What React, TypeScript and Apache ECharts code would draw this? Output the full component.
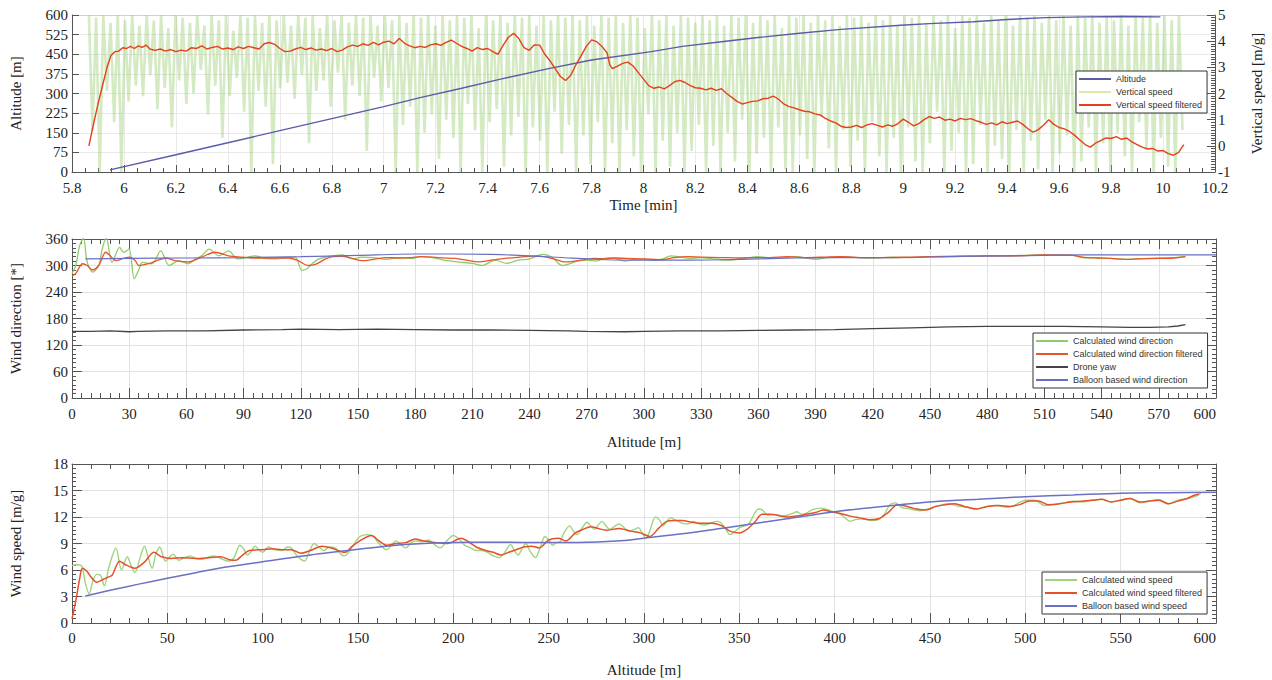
import React, { useEffect, useRef } from 'react';
import * as echarts from 'echarts';

// ---------- Panel 1: time series ----------
const timeMin = 5.8;
const timeMax = 10.2;
const timeStep = 0.2;
const altTicks = { min: 0, max: 600, interval: 75 };
const vsTicks = { min: -1, max: 5, interval: 1 };

// raw vertical speed samples (m/g), evenly sampled between vsStart and vsEnd
const vsStart = 5.865;
const vsEnd = 10.075;
const vsRaw: number[] = [
  5, 0.6, 4.9, -1, 5, 2.1, 4.7, 0.9, 5, -1, 4.8, 1.7,
  5, 2.3, 4.6, 1.9, 5, 2.7, 4.8, 1.4, 5, 2.2, 4.5, 0.7, 5, 2.5, 4.9, 1.6, 4.7, 2.0, 5, 2.9,
  4.6, 1.2, 5, 2.3, 4.8, 0.3, 5, 1.9, 4.4, 2.6, 5, 1.3, 4.9, -1, 5, 2.1, 4.7, 1.5, 5, -0.7, 4.8, 2.2,
  5, 2.4, 4.6, 1.8, 5, 2.7, 4.9, 0.1, 5, 2.1, 4.5, 2.5, 5, 1.5, 4.8, 2.8, 5, 1.0, 4.7, 2.3,
  5, 1.9, 4.9, -0.2, 5, 2.6, 4.6, 1.7, 5, 2.2, 4.8, -1,
  5, 0.8, 4.7, 1.5, 5, -1, 4.9, 0.5, 5, 1.2, 4.6, -0.5, 5, 1.0, 4.8, 0.3, 5, -1, 4.9, 1.6,
  5, 0.6, 4.5, -1, 5, 0.9, 4.8, 1.4, 5, -0.8, 4.7, 0.4, 5, 1.1, 4.9, -1, 5, 0.7, 4.6, 0.2,
  5, -1, 4.8, 1.3, 5, -0.3, 4.9, 0.8,
  5, -1, 4.8, 0.4, 5, -0.7, 4.6, 0.9, 5, -1, 4.9, 0.1, 5, -1, 4.7, 0.6, 5, -0.4, 4.9, -1,
  4.5, 1.2, 5, -1, 4.8, 0.2, 5, -0.8, 4.6, 0.5, 5, -1, 4.9, -0.2, 4.7, 0.8, 5, -1, 4.8, 0.0,
  5, -1, 4.6, 0.5, 5, -0.6, 4.9, 1.0, 5, -1, 4.7, -0.3, 5, 0.3, 4.8, -1, 5, 0.7, 4.5, -0.9,
  5, -1, 4.9, 0.4, 5, -0.5, 4.7, -1, 5, 1.1, 4.8, -0.1, 5, -1, 4.6, 0.6, 5, -0.8, 4.9, 0.2,
  5, -1, 4.7, 0.9, 5, -0.4, 4.8, -1, 5, 0.3, 4.6, -1, 5, 0.7, 4.9, -0.6, 5, -1, 4.7, 0.1,
  5, 1.3, 4.8, -1, 5, -0.2, 4.5, 0.5, 5, -1, 4.9, -0.7, 5, 0.8, 4.7, -1, 5, 0.0, 4.8, -0.5,
  5, -1, 4.6, 0.6, 5, -1, 4.9, 0.2, 5, -0.9, 4.7, 1.0, 5, -1, 4.8, -0.3, 5, 0.4, 4.6, -1,
  5, -0.6, 4.9, 0.7, 5, -1, 4.7, 0.1, 5, -1, 4.8, 0.5, 5, -0.4, 4.6, -1, 5, 0.9, 4.9, -0.1,
  5, -1, 4.7, 0.3, 5, -0.8, 4.8, -1, 5, 0.6,
];

const altitudeSeries: [number, number][] = [
  [5.946, 8], [6.2, 66], [6.4, 112], [6.6, 158], [6.8, 204], [7.0, 250], [7.14, 284], [7.3, 320],
  [7.45, 355], [7.63, 394], [7.8, 428], [8.03, 460], [8.15, 480], [8.3, 498], [8.45, 515], [8.6, 530],
  [8.76, 545], [8.99, 561], [9.1, 567], [9.27, 574], [9.4, 583], [9.55, 590], [9.7, 593], [9.85, 594], [9.99, 593],
];

const vsFiltered: [number, number][] = [
  [5.865, 0.0], [5.88, 0.7], [5.9, 1.6], [5.92, 2.4], [5.935, 3.0], [5.95, 3.45], [5.965, 3.6], [5.98, 3.62],
  [5.995, 3.75], [6.01, 3.72], [6.025, 3.8], [6.04, 3.72], [6.055, 3.82], [6.07, 3.76], [6.085, 3.85], [6.1, 3.7],
  [6.12, 3.65], [6.14, 3.7], [6.16, 3.62], [6.18, 3.68], [6.2, 3.6], [6.22, 3.66], [6.24, 3.62], [6.26, 3.75],
  [6.28, 3.72], [6.3, 3.82], [6.32, 3.7], [6.34, 3.76], [6.36, 3.8], [6.38, 3.7], [6.4, 3.74], [6.42, 3.68],
  [6.44, 3.78], [6.46, 3.72], [6.48, 3.8], [6.5, 3.75], [6.52, 3.7], [6.54, 3.9], [6.56, 3.95], [6.58, 3.88],
  [6.6, 3.72], [6.62, 3.6], [6.64, 3.62], [6.66, 3.7], [6.68, 3.76], [6.7, 3.68], [6.72, 3.74], [6.74, 3.66],
  [6.76, 3.7], [6.78, 3.64], [6.8, 3.72], [6.82, 3.6], [6.84, 3.66], [6.86, 3.78], [6.88, 3.85], [6.9, 3.8],
  [6.92, 3.9], [6.94, 3.84], [6.96, 3.95], [6.98, 3.86], [7.0, 3.96], [7.02, 4.0], [7.04, 3.9], [7.06, 4.1],
  [7.08, 3.92], [7.1, 3.82], [7.12, 3.75], [7.14, 3.8], [7.16, 3.76], [7.18, 3.86], [7.2, 3.9], [7.22, 3.84],
  [7.24, 3.95], [7.26, 4.04], [7.28, 3.92], [7.3, 3.8], [7.32, 3.72], [7.34, 3.62], [7.36, 3.75], [7.38, 3.68],
  [7.4, 3.72], [7.42, 3.6], [7.44, 3.5], [7.46, 3.85], [7.48, 4.15], [7.5, 4.3], [7.52, 4.1], [7.54, 3.75],
  [7.56, 3.65], [7.58, 3.86], [7.6, 3.85], [7.62, 3.5], [7.64, 3.25], [7.66, 2.95], [7.68, 2.65], [7.7, 2.5],
  [7.72, 2.7], [7.74, 3.1], [7.76, 3.45], [7.78, 3.8], [7.8, 4.05], [7.82, 3.98], [7.84, 3.8], [7.86, 3.55],
  [7.87, 3.1], [7.88, 2.95], [7.9, 3.05], [7.92, 3.15], [7.94, 3.2], [7.96, 3.05], [7.98, 2.8], [8.0, 2.55],
  [8.02, 2.3], [8.04, 2.2], [8.06, 2.25], [8.08, 2.18], [8.1, 2.3], [8.12, 2.45], [8.14, 2.5], [8.16, 2.42],
  [8.18, 2.3], [8.2, 2.22], [8.22, 2.2], [8.24, 2.14], [8.26, 2.2], [8.28, 2.12], [8.3, 2.18], [8.32, 2.0],
  [8.34, 1.85], [8.36, 1.7], [8.38, 1.6], [8.4, 1.65], [8.42, 1.7], [8.44, 1.72], [8.46, 1.8], [8.48, 1.82],
  [8.5, 1.9], [8.52, 1.78], [8.54, 1.6], [8.56, 1.5], [8.58, 1.45], [8.6, 1.38], [8.62, 1.32], [8.64, 1.3],
  [8.66, 1.22], [8.68, 1.18], [8.7, 1.05], [8.72, 0.95], [8.74, 0.88], [8.76, 0.75], [8.78, 0.7], [8.8, 0.72],
  [8.82, 0.78], [8.84, 0.7], [8.86, 0.8], [8.88, 0.85], [8.9, 0.78], [8.92, 0.72], [8.94, 0.8], [8.96, 0.75],
  [8.98, 0.85], [9.0, 1.02], [9.02, 0.9], [9.04, 0.76], [9.06, 0.85], [9.08, 1.0], [9.1, 1.12], [9.12, 1.05],
  [9.14, 1.1], [9.16, 0.98], [9.18, 1.02], [9.2, 0.95], [9.22, 1.05], [9.24, 1.0], [9.26, 1.04], [9.28, 0.96],
  [9.3, 0.9], [9.32, 0.82], [9.34, 0.88], [9.36, 0.8], [9.38, 0.92], [9.4, 0.85], [9.42, 0.9], [9.44, 0.95],
  [9.46, 0.82], [9.48, 0.65], [9.5, 0.52], [9.52, 0.62], [9.54, 0.8], [9.56, 1.0], [9.58, 0.82], [9.6, 0.7],
  [9.62, 0.65], [9.64, 0.55], [9.66, 0.4], [9.68, 0.22], [9.7, 0.05], [9.72, -0.05], [9.74, 0.1], [9.76, 0.2],
  [9.78, 0.3], [9.8, 0.28], [9.82, 0.35], [9.84, 0.25], [9.86, 0.3], [9.88, 0.15], [9.9, 0.05], [9.92, -0.05],
  [9.94, -0.12], [9.96, -0.1], [9.98, -0.2], [10.0, -0.18], [10.02, -0.3], [10.04, -0.36], [10.06, -0.25],
  [10.07, -0.1], [10.08, 0.05],
];

// ---------- Panel 2: wind direction vs altitude ----------
const dirCalc: [number, number][] = [
  [0, 282], [2, 300], [4, 345], [6, 362], [8, 307], [11, 285], [14, 300], [16, 340], [18, 362], [21, 307],
  [25, 341], [27, 330], [30, 337], [32.6, 270], [35, 290], [37, 307], [42, 304], [46.5, 333], [51, 300],
  [56, 311], [61, 304], [65, 315], [68, 322], [72, 337], [77, 322], [82, 333], [87, 315], [91, 318], [96, 322],
  [101, 316], [107, 315], [112, 318], [117, 319], [120.6, 289], [123, 292], [126, 304], [129, 314], [133, 319],
  [137, 322], [142, 324], [147, 315], [152, 319], [158, 318], [165, 314], [172, 318], [178, 316], [183, 320],
  [189, 318], [195, 312], [202, 308], [210, 305], [215, 300], [222, 312], [228, 305], [234, 312], [240, 315],
  [247, 325], [252, 318], [257, 300], [261, 304], [265, 310], [270, 312], [275, 310], [279, 316], [283, 318],
  [287, 313], [290, 310], [295, 314], [300, 315], [305, 312], [310, 315], [314, 322], [318, 320], [324, 316],
  [330, 318], [336, 315], [345, 312], [352, 316], [360, 320], [366, 317], [370, 316], [376, 319], [380, 320],
  [386, 316], [390, 314], [396, 318], [403, 320], [412, 318], [420, 317], [430, 319], [440, 318], [450, 320],
  [460, 320], [470, 321], [480, 322], [490, 322], [500, 323], [510, 324], [520, 324], [525, 323], [530, 318],
  [538, 317], [545, 316], [552, 314], [558, 315], [565, 316], [572, 317], [578, 318], [584, 320],
];
const dirFiltered: [number, number][] = [
  [0, 276], [2, 282], [5.5, 304], [8, 300], [10.7, 290], [14, 300], [17.7, 330], [20, 322], [23, 311], [27, 316],
  [30, 319], [33, 312], [35, 300], [38, 302], [40.3, 304], [45, 312], [49, 317], [54, 311], [61, 308], [68, 319],
  [75, 330], [82, 322], [89, 319], [95, 317], [100, 317], [107, 317], [113.6, 317], [118, 312], [124, 300],
  [128, 303], [133, 315], [137, 320], [141.7, 321], [147, 316], [152, 311], [158, 314], [165, 318], [172, 317],
  [178, 318], [183, 320], [192, 318], [201, 316], [207, 312], [213, 308], [220, 312], [227, 316], [235, 319],
  [244, 322], [250, 318], [255, 312], [258, 308], [262, 309], [267, 312], [274, 316], [280, 315], [285, 317],
  [291, 316], [300, 315], [309, 313], [316, 318], [323, 320], [330, 319], [340, 318], [350, 317], [358, 318],
  [366, 318], [375, 320], [385, 318], [395, 319], [403, 320], [415, 318], [425, 318], [440, 319], [450, 320],
  [465, 321], [480, 322], [495, 322], [510, 324], [525, 323], [530, 319], [538, 317], [545, 316], [552, 314],
  [560, 315], [570, 316], [578, 317], [584, 320],
];
const droneYaw: [number, number][] = [
  [0, 151], [10, 151], [20, 152], [30, 150], [35, 151], [50, 152], [70, 152], [90, 154], [110, 155], [120, 156],
  [140, 155], [160, 156], [180, 155], [200, 154], [220, 154], [240, 153], [260, 152], [270, 151], [290, 150],
  [300, 151], [320, 152], [340, 152], [360, 153], [380, 154], [400, 155], [420, 157], [440, 159], [460, 161],
  [480, 162], [500, 162], [520, 162], [540, 161], [555, 160], [565, 160], [575, 161], [580, 163], [584, 166],
];
const balloonDir: [number, number][] = [
  [7, 315], [30, 316], [60, 317], [90, 318], [120, 320], [150, 323], [180, 326], [200, 326], [220, 325],
  [240, 322], [260, 317], [280, 313], [300, 312], [320, 312], [340, 313], [360, 315], [380, 317], [400, 318],
  [430, 318], [460, 320], [490, 322], [510, 323], [530, 324], [560, 324], [600, 324],
];

// ---------- Panel 3: wind speed vs altitude ----------
const speedCalc: [number, number][] = [
  [0, 6.5], [2, 6.6], [5, 6.5], [7, 4.5], [9, 3.3], [11, 4.8], [13, 5.5], [15, 5.4], [17, 4.2], [19, 6.0],
  [21, 7.5], [23, 8.5], [26, 6.0], [29, 7.5], [31, 6.5], [33, 5.7], [36, 7.6], [38, 8.7], [40, 7.4], [42, 6.2],
  [44, 7.8], [46, 8.6], [49, 7.0], [51, 7.4], [53, 7.8], [56, 7.1], [58, 7.3], [62, 7.6], [65, 7.3], [68, 7.2],
  [72, 7.5], [75, 7.6], [78, 7.3], [82, 7.0], [85, 7.4], [88, 8.8], [90, 8.4], [92, 7.7], [94, 8.1], [96, 8.7],
  [98, 8.3], [100, 8.0], [103, 8.6], [106, 8.3], [110, 8.2], [113, 8.6], [115, 8.5], [118, 7.6], [122, 7.0],
  [124, 7.8], [127, 9.0], [130, 8.5], [132, 8.2], [135, 8.6], [138, 8.5], [141, 7.8], [143, 7.6], [147, 8.6],
  [150, 9.6], [152, 9.9], [155, 10.0], [158, 9.8], [161, 9.0], [165, 8.3], [168, 8.9], [170, 9.3], [173, 8.8],
  [175, 8.5], [178, 9.1], [180, 9.3], [183, 9.2], [187, 9.4], [190, 8.9], [193, 8.5], [197, 9.4], [200, 9.9],
  [203, 9.5], [206, 8.8], [209, 8.5], [212, 8.2], [215, 8.2], [218, 8.0], [221, 7.6], [224, 7.4], [227, 8.0],
  [230, 8.9], [232, 8.2], [234, 7.7], [236, 8.4], [238, 9.0], [240, 8.2], [243, 7.4], [246, 8.8], [248, 9.8],
  [250, 9.4], [252, 8.8], [254, 9.1], [256, 9.2], [258, 10.2], [261, 11.0], [263, 10.4], [265, 10.0], [268, 10.9],
  [270, 11.4], [272, 11.0], [274, 10.6], [276, 11.1], [278, 11.5], [280, 11.0], [282, 10.6], [285, 11.0],
  [287, 11.2], [290, 10.7], [292, 10.4], [295, 10.6], [297, 10.8], [299, 10.2], [301, 9.6], [303, 10.4],
  [306, 12.0], [308, 11.7], [310, 11.0], [312, 11.5], [314, 11.9], [317, 11.6], [320, 11.3], [323, 11.2],
  [326, 11.5], [329, 11.2], [332, 11.1], [335, 11.3], [338, 11.5], [340, 11.4], [343, 10.6], [345, 10.0],
  [348, 10.4], [350, 10.8], [353, 11.0], [355, 11.2], [357, 12.0], [360, 12.9], [362, 12.8], [365, 12.2],
  [368, 12.3], [372, 12.1], [375, 12.2], [378, 12.4], [380, 12.6], [383, 12.3], [385, 12.4], [388, 12.8],
  [392, 13.0], [395, 12.9], [398, 12.7], [402, 12.4], [405, 12.0], [408, 11.5], [411, 11.7], [414, 11.8],
  [417, 11.7], [420, 11.6], [423, 11.7], [426, 12.3], [429, 13.4], [432, 13.6], [435, 13.1], [440, 12.9],
  [445, 12.7], [450, 13.0], [455, 13.3], [460, 13.5], [465, 13.2], [470, 13.1], [475, 12.9], [480, 13.2],
  [485, 13.3], [490, 13.1], [495, 13.4], [500, 13.9], [505, 13.9], [510, 13.3], [515, 13.4], [520, 13.6],
  [525, 13.8], [530, 13.7], [535, 13.9], [540, 14.0], [545, 13.7], [550, 13.9], [555, 14.1], [560, 13.6],
  [565, 13.8], [570, 14.0], [575, 13.5], [580, 13.9], [585, 14.1], [590, 14.4], [592, 14.7],
];
const speedFiltered: [number, number][] = [
  [0, 0.5], [2, 2.5], [4, 5.0], [5.5, 6.2], [8, 5.8], [10, 5.2], [13, 4.6], [16, 4.9], [19, 5.2], [21, 5.4],
  [25, 7.0], [28, 6.6], [33, 6.2], [38, 6.9], [43, 8.0], [47, 7.5], [52, 7.3], [58, 7.4], [65, 7.3], [72, 7.4],
  [78, 7.5], [82, 7.2], [86, 7.1], [89, 7.6], [93, 8.2], [100, 8.3], [105, 8.4], [110, 8.3], [115, 8.3],
  [120, 7.9], [125, 8.2], [131, 8.7], [136, 8.5], [143, 8.0], [147, 8.7], [151, 9.3], [157, 9.9], [161, 9.3],
  [165, 8.8], [170, 9.0], [175, 9.1], [180, 9.5], [184, 9.3], [190, 9.1], [197, 9.0], [204, 9.6], [208, 9.2],
  [212, 8.6], [217, 8.2], [221, 8.0], [225, 7.7], [229, 8.0], [233, 8.3], [237, 8.6], [241, 8.7], [245, 8.5],
  [250, 9.4], [255, 9.6], [259, 9.3], [264, 10.2], [268, 10.6], [272, 10.9], [276, 10.7], [280, 10.5],
  [287, 10.7], [293, 10.4], [298, 10.2], [303, 9.8], [308, 10.8], [312, 11.5], [316, 11.6], [320, 11.6],
  [325, 11.4], [330, 11.3], [336, 11.3], [341, 11.0], [345, 10.4], [350, 10.2], [354, 10.6], [358, 11.4],
  [362, 12.3], [366, 12.3], [370, 12.2], [375, 12.0], [380, 12.1], [385, 12.3], [390, 12.5], [394, 12.8],
  [398, 12.6], [403, 12.4], [408, 12.1], [413, 11.9], [418, 11.7], [423, 11.8], [428, 12.5], [433, 13.4],
  [438, 13.2], [443, 12.9], [448, 12.8], [453, 13.2], [458, 13.4], [463, 13.5], [468, 13.2], [474, 12.9],
  [480, 13.2], [486, 13.3], [492, 13.2], [497, 13.4], [502, 13.8], [507, 13.8], [512, 13.4], [518, 13.5],
  [524, 13.7], [530, 13.8], [535, 13.9], [540, 14.0], [545, 13.7], [550, 13.9], [555, 14.1], [560, 13.7],
  [565, 13.8], [570, 13.9], [575, 13.5], [580, 13.8], [585, 14.1], [588, 14.4], [591, 14.6],
];
const balloonSpeed: [number, number][] = [
  [7, 3.05], [20, 3.7], [35, 4.4], [50, 5.06], [65, 5.7], [80, 6.3], [100, 6.94], [125, 7.7], [150, 8.34],
  [170, 8.8], [190, 9.05], [210, 9.15], [230, 9.15], [250, 9.1], [270, 9.15], [290, 9.35], [300, 9.6],
  [320, 10.1], [340, 10.7], [350, 11.0], [375, 11.8], [400, 12.6], [425, 13.2], [450, 13.7], [475, 14.0],
  [500, 14.3], [525, 14.5], [550, 14.7], [575, 14.75], [600, 14.8],
];

const SERIF = 'Liberation Serif';
const SANS = 'Liberation Sans';
const AX = '#555';

function tickStyle(len: number, minorLen: number, minorSplit: number, showMinor = true) {
  return {
    axisTick: { show: true, inside: true, length: len, lineStyle: { color: AX, width: 1 } },
    minorTick: { show: showMinor, splitNumber: minorSplit, length: minorLen, lineStyle: { color: AX, width: 1 } },
  };
}

function legendBox(left: number, top: number, data: string[]) {
  return {
    orient: 'vertical',
    left,
    top,
    icon: 'rect',
    itemWidth: 32,
    itemHeight: 2,
    itemGap: 3,
    padding: [3, 5, 3, 3],
    borderColor: '#333',
    borderWidth: 1,
    borderRadius: 0,
    backgroundColor: '#fff',
    selectedMode: false,
    textStyle: { fontFamily: SANS, fontSize: 9, color: '#333', lineHeight: 10 },
    data,
  };
}

export default function App() {
  const ref = useRef<HTMLDivElement>(null);
  useEffect(() => {
    if (!ref.current) return;
    const chart = echarts.init(ref.current, undefined, { renderer: 'svg' });
    const n = vsRaw.length;
    const vsData = vsRaw.map((v, i) => [vsStart + (i * (vsEnd - vsStart)) / (n - 1), v]);
    const labelStyle = { fontFamily: SERIF, fontSize: 15, color: '#222' };
    const nameStyle = { fontFamily: SERIF, fontSize: 15, color: '#222' };
    const grid2Split = { show: true, lineStyle: { color: '#e2e2e2', width: 1 } };

    const option: any = {
      animation: false,
      backgroundColor: '#fff',
      grid: [
        { left: 70, top: 15, width: 1146, height: 157 },
        { left: 70, top: 239, width: 1146, height: 159 },
        { left: 70, top: 464, width: 1146, height: 159 },
      ],
      xAxis: [
        {
          type: 'value', gridIndex: 0, position: 'bottom', min: timeMin, max: timeMax, interval: timeStep,
          name: 'Time [min]', nameLocation: 'middle', nameGap: 25, nameTextStyle: nameStyle,
          axisLine: { show: true, onZero: false, lineStyle: { color: AX } },
          ...tickStyle(7, 4, 4),
          axisLabel: { ...labelStyle, margin: 8, formatter: (v: number) => String(+v.toFixed(1)) },
          splitLine: { show: true, lineStyle: { color: '#e9e9e9' } },
        },
        {
          type: 'value', gridIndex: 0, position: 'top', min: timeMin, max: timeMax, interval: timeStep,
          axisLine: { show: true, onZero: false, lineStyle: { color: '#d0d0d0' } },
          axisTick: { show: false }, axisLabel: { show: false }, splitLine: { show: false },
        },
        {
          type: 'value', gridIndex: 1, position: 'bottom', min: 0, max: 600, interval: 30,
          name: 'Altitude [m]', nameLocation: 'middle', nameGap: 36, nameTextStyle: nameStyle,
          axisLine: { show: true, onZero: false, lineStyle: { color: AX } },
          ...tickStyle(10, 5, 6),
          axisLabel: { ...labelStyle, margin: 8, alignMaxLabel: 'right' },
          splitLine: grid2Split,
        },
        {
          type: 'value', gridIndex: 1, position: 'top', min: 0, max: 600, interval: 30,
          axisLine: { show: true, onZero: false, lineStyle: { color: AX } },
          ...tickStyle(10, 5, 6), axisLabel: { show: false }, splitLine: { show: false },
        },
        {
          type: 'value', gridIndex: 2, position: 'bottom', min: 0, max: 600, interval: 50,
          name: 'Altitude [m]', nameLocation: 'middle', nameGap: 39, nameTextStyle: nameStyle,
          axisLine: { show: true, onZero: false, lineStyle: { color: AX } },
          ...tickStyle(10, 5, 5),
          axisLabel: { ...labelStyle, margin: 7, alignMaxLabel: 'right' },
          splitLine: grid2Split,
        },
        {
          type: 'value', gridIndex: 2, position: 'top', min: 0, max: 600, interval: 50,
          axisLine: { show: true, onZero: false, lineStyle: { color: AX } },
          ...tickStyle(10, 5, 5), axisLabel: { show: false }, splitLine: { show: false },
        },
      ],
      yAxis: [
        {
          type: 'value', gridIndex: 0, position: 'left', min: altTicks.min, max: altTicks.max, interval: altTicks.interval,
          name: 'Altitude [m]', nameLocation: 'middle', nameGap: 49, nameTextStyle: nameStyle,
          axisLine: { show: true, onZero: false, lineStyle: { color: AX } },
          ...tickStyle(7, 4, 3, false),
          axisLabel: { ...labelStyle, margin: 4 },
          splitLine: { show: true, lineStyle: { color: '#e9e9e9' } },
        },
        {
          type: 'value', gridIndex: 0, position: 'right', min: vsTicks.min, max: vsTicks.max, interval: vsTicks.interval,
          name: 'Vertical speed [m/g]', nameLocation: 'middle', nameGap: 34, nameTextStyle: nameStyle,
          axisLine: { show: true, onZero: false, lineStyle: { color: AX } },
          ...tickStyle(8, 4, 10),
          axisLabel: { ...labelStyle, margin: 3 },
          splitLine: { show: false },
        },
        {
          type: 'value', gridIndex: 1, position: 'left', min: 0, max: 360, interval: 60,
          name: 'Wind direction [*]', nameLocation: 'middle', nameGap: 49, nameTextStyle: nameStyle,
          axisLine: { show: true, onZero: false, lineStyle: { color: AX } },
          ...tickStyle(10, 4, 6),
          axisLabel: { ...labelStyle, margin: 4 },
          splitLine: grid2Split,
        },
        {
          type: 'value', gridIndex: 1, position: 'right', min: 0, max: 360, interval: 60,
          axisLine: { show: true, onZero: false, lineStyle: { color: AX } },
          ...tickStyle(10, 4, 6), axisLabel: { show: false }, splitLine: { show: false },
        },
        {
          type: 'value', gridIndex: 2, position: 'left', min: 0, max: 18, interval: 3,
          name: 'Wind speed [m/g]', nameLocation: 'middle', nameGap: 49, nameTextStyle: nameStyle,
          axisLine: { show: true, onZero: false, lineStyle: { color: AX } },
          ...tickStyle(10, 4, 6),
          axisLabel: { ...labelStyle, margin: 4 },
          splitLine: grid2Split,
        },
        {
          type: 'value', gridIndex: 2, position: 'right', min: 0, max: 18, interval: 3,
          axisLine: { show: true, onZero: false, lineStyle: { color: AX } },
          ...tickStyle(10, 4, 6), axisLabel: { show: false }, splitLine: { show: false },
        },
      ],
      legend: [
        legendBox(1076, 71, ['Altitude', 'Vertical speed', 'Vertical speed filtered']),
        legendBox(1033, 333, ['Calculated wind direction', 'Calculated wind direction filtered', 'Drone yaw', 'Balloon based wind direction']),
        legendBox(1042, 572, ['Calculated wind speed', 'Calculated wind speed filtered', 'Balloon based wind speed']),
      ],
      series: [
        {
          name: 'Vertical speed', type: 'line', xAxisIndex: 0, yAxisIndex: 1, data: vsData, symbol: 'none',
          lineStyle: { color: 'rgba(150,205,110,0.42)', width: 2.6 }, itemStyle: { color: '#dbe9a6' },
        },
        {
          name: 'Altitude', type: 'line', xAxisIndex: 0, yAxisIndex: 0, data: altitudeSeries, symbol: 'none',
          lineStyle: { color: '#5a5ca8', width: 1.4 }, itemStyle: { color: '#5a5ca8' },
        },
        {
          name: 'Vertical speed filtered', type: 'line', xAxisIndex: 0, yAxisIndex: 1, data: vsFiltered, symbol: 'none',
          lineStyle: { color: '#e5401c', width: 1.4 }, itemStyle: { color: '#e5401c' },
        },
        {
          name: 'Calculated wind direction', type: 'line', xAxisIndex: 2, yAxisIndex: 2, data: dirCalc, symbol: 'none',
          smooth: 0.3, lineStyle: { color: '#8fcb6a', width: 1.3 }, itemStyle: { color: '#8fcb6a' },
        },
        {
          name: 'Calculated wind direction filtered', type: 'line', xAxisIndex: 2, yAxisIndex: 2, data: dirFiltered, symbol: 'none',
          smooth: 0.3, lineStyle: { color: '#e8552a', width: 1.3 }, itemStyle: { color: '#e8552a' },
        },
        {
          name: 'Drone yaw', type: 'line', xAxisIndex: 2, yAxisIndex: 2, data: droneYaw, symbol: 'none',
          lineStyle: { color: '#444', width: 1.3 }, itemStyle: { color: '#444' },
        },
        {
          name: 'Balloon based wind direction', type: 'line', xAxisIndex: 2, yAxisIndex: 2, data: balloonDir, symbol: 'none',
          smooth: 0.3, lineStyle: { color: '#6a6ec0', width: 1.2 }, itemStyle: { color: '#6a6ec0' },
        },
        {
          name: 'Calculated wind speed', type: 'line', xAxisIndex: 4, yAxisIndex: 4, data: speedCalc, symbol: 'none',
          smooth: 0.3, lineStyle: { color: '#9fd47e', width: 1.4 }, itemStyle: { color: '#9fd47e' },
        },
        {
          name: 'Calculated wind speed filtered', type: 'line', xAxisIndex: 4, yAxisIndex: 4, data: speedFiltered, symbol: 'none',
          smooth: 0.3, lineStyle: { color: '#e5502a', width: 1.5 }, itemStyle: { color: '#e5502a' },
        },
        {
          name: 'Balloon based wind speed', type: 'line', xAxisIndex: 4, yAxisIndex: 4, data: balloonSpeed, symbol: 'none',
          smooth: 0.3, lineStyle: { color: '#6b70c4', width: 1.5 }, itemStyle: { color: '#6b70c4' },
        },
      ],
    };
    chart.setOption(option);
    return () => chart.dispose();
  }, []);
  return (
    <div
      ref={ref}
      style={{ position: 'fixed', left: 0, top: 0, width: '1272px', height: '680px', background: '#fff' }}
    />
  );
}
